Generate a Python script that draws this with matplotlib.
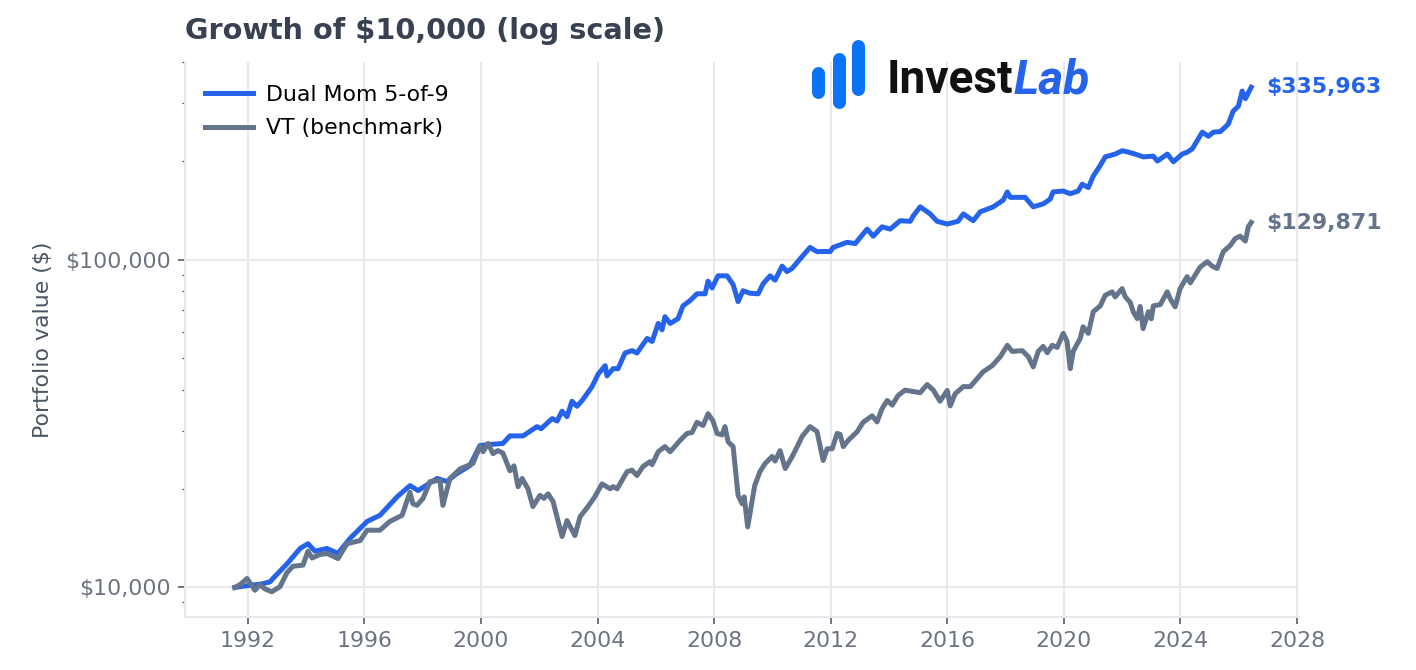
import numpy as np
import matplotlib
matplotlib.use("Agg")
import matplotlib.pyplot as plt
from matplotlib.ticker import FuncFormatter, NullFormatter
from matplotlib.lines import Line2D

# Dual Mom 5-of-9 (decimal year, portfolio value)
dm_years = [1991.55, 1991.73, 1992.07, 1992.48, 1992.76, 1992.86, 1993.34, 1993.79, 1994.06, 1994.30,
            1994.71, 1995.09, 1995.50, 1996.09, 1996.53, 1997.12, 1997.56, 1997.84, 1998.49, 1998.83,
            1999.17, 1999.62, 1999.96, 2000.30, 2000.75, 2000.99, 2001.44, 2001.92, 2002.06, 2002.44,
            2002.61, 2002.78, 2002.95, 2003.12, 2003.29, 2003.47, 2003.81, 2004.02, 2004.26, 2004.32,
            2004.53, 2004.70, 2004.94, 2005.18, 2005.35, 2005.70, 2005.87, 2006.08, 2006.21, 2006.31,
            2006.49, 2006.76, 2006.93, 2007.17, 2007.41, 2007.69, 2007.79, 2007.93, 2008.13, 2008.44,
            2008.65, 2008.82, 2008.99, 2009.23, 2009.51, 2009.68, 2009.92, 2010.09, 2010.33, 2010.50,
            2010.67, 2010.95, 2011.29, 2011.53, 2011.81, 2011.98, 2012.08, 2012.56, 2012.84, 2013.25,
            2013.46, 2013.76, 2014.04, 2014.38, 2014.73, 2014.83, 2015.07, 2015.41, 2015.65, 2016.00,
            2016.37, 2016.55, 2016.89, 2017.13, 2017.58, 2017.92, 2018.06, 2018.16, 2018.67, 2018.95,
            2019.29, 2019.53, 2019.63, 2019.98, 2020.22, 2020.49, 2020.63, 2020.84, 2021.01, 2021.25,
            2021.42, 2021.76, 2022.00, 2022.21, 2022.45, 2022.72, 2023.07, 2023.21, 2023.55, 2023.76,
            2024.06, 2024.24, 2024.41, 2024.75, 2024.96, 2025.13, 2025.37, 2025.64, 2025.81, 2025.99,
            2026.12, 2026.23, 2026.43]
dm_values = [10000, 10050, 10150, 10250, 10400, 10650, 11800, 13150, 13600, 12900,
             13150, 12700, 14100, 15900, 16600, 18900, 20450, 19750, 21500, 21050,
             22250, 23550, 27100, 27300, 27500, 29000, 29000, 30950, 30500, 32750,
             32200, 34500, 33200, 37000, 35700, 37200, 41000, 44800, 47500, 44200,
             46500, 46500, 51900, 52800, 51900, 57500, 56300, 63900, 61100, 67000,
             63900, 66100, 72300, 75000, 78700, 78700, 86000, 82000, 89300, 89300,
             84000, 74500, 80400, 79000, 78700, 84500, 89300, 86600, 95600, 92000,
             94000, 100600, 109000, 105800, 106000, 105800, 109000, 113000, 112000, 124000,
             118000, 126000, 124000, 131500, 131000, 136000, 145000, 138000, 131000, 128500,
             131000, 138000, 131500, 140000, 145000, 152000, 161000, 155000, 155000, 145000,
             148000, 153000, 161000, 162000, 159000, 162000, 170000, 166000, 180000, 194000,
             206000, 210000, 215000, 213000, 210000, 206000, 207000, 200000, 210000, 199000,
             210000, 213000, 218000, 245000, 238000, 245000, 246000, 259000, 284000, 294000,
             327000, 310000, 335963]

# VT benchmark (decimal year, portfolio value)
vt_years = [1991.55, 1991.73, 1991.97, 1992.14, 1992.24, 1992.41, 1992.58, 1992.82, 1993.10, 1993.34,
            1993.54, 1993.89, 1994.06, 1994.20, 1994.47, 1994.71, 1995.09, 1995.40, 1995.85, 1996.09,
            1996.53, 1996.87, 1997.29, 1997.56, 1997.66, 1997.80, 1998.01, 1998.25, 1998.59, 1998.69,
            1998.93, 1999.28, 1999.72, 1999.96, 2000.07, 2000.24, 2000.41, 2000.58, 2000.75, 2000.99,
            2001.13, 2001.27, 2001.41, 2001.61, 2001.78, 2002.02, 2002.16, 2002.30, 2002.47, 2002.64,
            2002.78, 2002.95, 2003.22, 2003.40, 2003.67, 2003.91, 2004.15, 2004.43, 2004.53, 2004.67,
            2005.01, 2005.18, 2005.35, 2005.56, 2005.80, 2005.87, 2006.08, 2006.31, 2006.49, 2006.83,
            2007.07, 2007.24, 2007.41, 2007.62, 2007.79, 2007.96, 2008.10, 2008.27, 2008.37, 2008.48,
            2008.65, 2008.82, 2008.96, 2009.03, 2009.15, 2009.39, 2009.57, 2009.75, 2009.99, 2010.09,
            2010.26, 2010.44, 2010.68, 2010.85, 2011.02, 2011.29, 2011.53, 2011.74, 2011.88, 2012.05,
            2012.22, 2012.32, 2012.43, 2012.60, 2012.91, 2013.11, 2013.42, 2013.59, 2013.76, 2013.94,
            2014.11, 2014.31, 2014.55, 2014.83, 2015.07, 2015.31, 2015.52, 2015.75, 2016.00, 2016.10,
            2016.27, 2016.55, 2016.79, 2017.03, 2017.23, 2017.54, 2017.82, 2018.06, 2018.23, 2018.57,
            2018.78, 2018.95, 2019.12, 2019.29, 2019.43, 2019.60, 2019.77, 2019.98, 2020.11, 2020.22,
            2020.32, 2020.56, 2020.66, 2020.84, 2021.01, 2021.25, 2021.42, 2021.66, 2021.76, 2022.00,
            2022.11, 2022.28, 2022.38, 2022.52, 2022.62, 2022.72, 2022.90, 2023.00, 2023.07, 2023.31,
            2023.55, 2023.65, 2023.82, 2023.99, 2024.23, 2024.34, 2024.68, 2024.92, 2025.09, 2025.26,
            2025.47, 2025.71, 2025.88, 2026.05, 2026.23, 2026.33, 2026.43]
vt_values = [10000, 10200, 10650, 10100, 9800, 10200, 9900, 9700, 10050, 11100,
             11600, 11700, 12900, 12300, 12600, 12700, 12250, 13600, 13900, 14950,
             14950, 15900, 16600, 19500, 18000, 17800, 18700, 21050, 21200, 17800,
             21500, 23000, 23900, 26900, 25950, 27500, 25600, 26150, 25700, 22700,
             23500, 20300, 21500, 20000, 17650, 19100, 18700, 19300, 18300, 16000,
             14300, 16000, 14400, 16450, 17650, 18950, 20700, 20000, 20300, 20000,
             22550, 22800, 21950, 23400, 24200, 23700, 25950, 26900, 25950, 28100,
             29500, 29700, 31900, 31200, 33900, 32200, 29500, 29200, 30950, 27800,
             26900, 19100, 18000, 18900, 15300, 20450, 22550, 23900, 25100, 24300,
             26150, 23050, 25100, 26900, 28900, 30950, 29900, 24400, 26500, 26500,
             29500, 29300, 26900, 28100, 29900, 31900, 33400, 32000, 35100, 37200,
             36000, 38500, 40000, 39600, 39300, 41600, 40000, 37000, 39900, 35800,
             39000, 41000, 41000, 43400, 45500, 47500, 50600, 54800, 52500, 52800,
             50600, 47100, 52500, 54400, 52000, 54800, 54000, 59600, 56300, 46500,
             52500, 57500, 62400, 59600, 69400, 72300, 77900, 79800, 77000, 81600,
             77000, 74000, 69400, 66100, 72000, 61600, 69400, 66000, 72300, 73000,
             79800, 76000, 71800, 81600, 88800, 85000, 95000, 98600, 95600, 94000,
             105800, 110500, 116000, 118000, 114000, 126000, 129871]

year_ticks = list(range(1992, 2029, 4))

blue = "#2563eb"
slate = "#64748b"

fig = plt.figure(figsize=(1416 / 144, 670 / 144), dpi=144)
ax = fig.add_axes([185 / 1416, 1 - 617 / 670, (1299 - 185) / 1416, (617 - 62) / 670])

ax.plot(dm_years, dm_values, color=blue, lw=2.5, label="Dual Mom 5-of-9", zorder=3)
ax.plot(vt_years, vt_values, color=slate, lw=2.5, label="VT (benchmark)", zorder=3)
ax.set_yscale("log")
ax.set_xlim(1989.84, 2028.07)

ax.set_xticks(year_ticks)
ax.set_xticklabels([str(y) for y in year_ticks])
ax.yaxis.set_major_formatter(FuncFormatter(lambda v, p: f"${v:,.0f}"))
ax.yaxis.set_minor_formatter(NullFormatter())

ax.grid(True, which="major", color="#e5e7eb", lw=0.9)
ax.set_axisbelow(True)
for side in ["top", "right"]:
    ax.spines[side].set_visible(False)
for side in ["left", "bottom"]:
    ax.spines[side].set_color("#e5e7eb")
    ax.spines[side].set_linewidth(1.0)
ax.tick_params(axis="both", which="major", labelsize=11, labelcolor="#6b7280", color="#4b5563", length=3.5, width=0.8)
ax.tick_params(axis="y", which="minor", color="#4b5563", length=1.5, width=0.6)

ax.set_ylabel("Portfolio value ($)", fontsize=11, color="#4b5563", labelpad=6)
ax.set_title("Growth of $10,000 (log scale)", loc="left", fontsize=14.4, fontweight="bold", color="#374151", pad=11.5)

leg = ax.legend(loc="upper left", bbox_to_anchor=(0, 0.994), frameon=False, fontsize=11,
                handlelength=2.2, handletextpad=0.6, labelspacing=0.6)

# end-of-line value labels
ax.annotate(f"${dm_values[-1]:,.0f}", xy=(dm_years[-1], dm_values[-1]), xytext=(7.5, 0), textcoords="offset points",
            va="center", ha="left", fontsize=11, fontweight="bold", color=blue, annotation_clip=False)
ax.annotate(f"${vt_values[-1]:,.0f}", xy=(vt_years[-1], vt_values[-1]), xytext=(7.5, 0), textcoords="offset points",
            va="center", ha="left", fontsize=11, fontweight="bold", color=slate, annotation_clip=False)

# InvestLab logo
bar_color = "#0b74f5"
for cx, y0, y1 in [(818, 72.5, 91.5), (838.5, 58.5, 101.5), (858.5, 45.5, 88.5)]:
    fig.add_artist(Line2D([cx / 1416, cx / 1416], [1 - y0 / 670, 1 - y1 / 670], transform=fig.transFigure,
                          color=bar_color, lw=6.5, solid_capstyle="round"))
fig.text(887 / 1416, 1 - 93 / 670, "Invest", fontsize=23, fontweight="bold", family="Roboto",
         color="#111111", va="baseline", ha="left")
fig.text(1014 / 1416, 1 - 93 / 670, "Lab", fontsize=24, fontweight="bold", fontstyle="italic", family="Roboto",
         color=blue, va="baseline", ha="left")

fig.savefig("out.png", dpi=144)
